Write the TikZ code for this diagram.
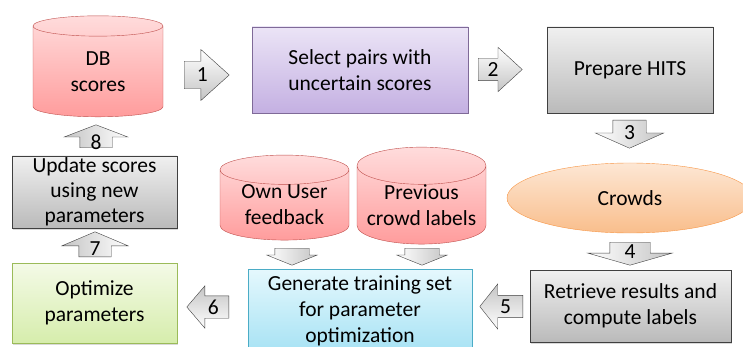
\documentclass[tikz,border=0pt]{standalone}
\usepackage{fontspec}
\setmainfont{Carlito}
\usetikzlibrary{shapes.geometric,shapes.arrows,calc,shadows}
\definecolor{dbtop}{HTML}{FFDCDC}
\definecolor{dbbot}{HTML}{FF9C9C}
\definecolor{dbline}{HTML}{C0504D}
\definecolor{seltop}{HTML}{EBE4F6}
\definecolor{selbot}{HTML}{C4B0E2}
\definecolor{selline}{HTML}{7F6A98}
\definecolor{graytop}{HTML}{F0F0F0}
\definecolor{graybot}{HTML}{BABABA}
\definecolor{crtop}{HTML}{FDE7D4}
\definecolor{crbot}{HTML}{F9BE8C}
\definecolor{crline}{HTML}{F79646}
\definecolor{gentop}{HTML}{E5F8FD}
\definecolor{genbot}{HTML}{A6E2F4}
\definecolor{genline}{HTML}{4BACC6}
\definecolor{opttop}{HTML}{F4FAE7}
\definecolor{optbot}{HTML}{D6EDAC}
\definecolor{optline}{HTML}{9BBB59}
\definecolor{arrbot}{HTML}{C4C4C4}

\tikzset{
  box/.style={rectangle, draw=black!75, align=center, inner sep=2pt,
    top color=graytop, bottom color=graybot,
    drop shadow={shadow xshift=1pt, shadow yshift=-1.5pt, opacity=0.3}},
  dbcyl/.style={cylinder, shape border rotate=90, draw=dbline, align=center,
    top color=dbtop, bottom color=dbbot, inner sep=0pt},
  barrow/.style={single arrow, draw=black!75, single arrow head indent=0pt,
    inner xsep=0pt},
  % half shaft, head extend, length, tip angle
  hsize/.style n args={4}{inner ysep=#1pt, single arrow head extend=#2pt,
    minimum height={2*(#1+#2)*1pt}, minimum width=#3pt,
    single arrow tip angle=#4},
  vsize/.style n args={4}{inner ysep=#1pt, single arrow head extend=#2pt,
    minimum width={2*(#1+#2)*1pt}, minimum height=#3pt,
    single arrow tip angle=#4},
  toright/.style={top color=white, bottom color=arrbot},
  toleft/.style={rotate=180, bottom color=white, top color=arrbot},
  todown/.style={rotate=-90, left color=white, right color=arrbot},
  toup/.style={rotate=90, right color=white, left color=arrbot},
}

\begin{document}
\begin{tikzpicture}[x=1pt,y=-1pt,font=\fontsize{21.5}{26}\selectfont]
  \useasboundingbox (0,0) rectangle (743,347);

  % boxes and stores
  \node[dbcyl, minimum width=130pt, minimum height=101pt, aspect=0.37] (dbs) at (98,71.5) {DB\\scores};
  \node[box, draw=selline, top color=seltop, bottom color=selbot,
    minimum width=216pt, minimum height=86pt] (sel) at (360,70) {Select pairs with\\uncertain scores};
  \node[box, minimum width=166pt, minimum height=86pt] (hits) at (630,70) {Prepare HITS};
  \node[ellipse, draw=crline, top color=crtop, bottom color=crbot,
    minimum width=246pt, minimum height=70pt] (crowd) at (630,198) {Crowds};
  \node[box, minimum width=201pt, minimum height=72pt] (retr) at (630.5,306) {Retrieve results and\\compute labels};
  \node[box, draw=genline, top color=gentop, bottom color=genbot,
    minimum width=224pt, minimum height=84pt] (gen) at (360,311) {Generate training set\\for parameter\\optimization};
  \node[dbcyl, minimum width=129pt, minimum height=85pt, aspect=0.34] (own) at (284.5,205) {Own User\\feedback};
  \node[dbcyl, minimum width=129pt, minimum height=85pt, aspect=0.34] (prev) at (421.5,205) {Previous\\crowd labels};
  \node[box, draw=optline, top color=opttop, bottom color=optbot,
    minimum width=165pt, minimum height=80pt] (opt) at (94.5,303) {Optimize\\parameters};
  \node[box, inner ysep=0pt, font=\fontsize{21.5}{25}\selectfont,
    minimum width=165pt, minimum height=72pt] (upd) at (94.5,192) {Update scores\\using new\\parameters};

  % block arrows
  \node[barrow, toright, hsize={12}{10.5}{51}{84}, anchor=tail] (a1) at (184,75) {};
  \node[barrow, toright, hsize={11}{11}{44}{85}, anchor=tail] (a2) at (478,69.5) {};
  \node[barrow, todown, vsize={16.5}{17.5}{28}{132}, anchor=tail] (a3) at (629.5,120) {};
  \node[barrow, todown, vsize={20}{22}{23}{148}, anchor=tail] (a4) at (630,242) {};
  \node[barrow, toleft, hsize={10.5}{11}{45}{103}, anchor=tail] (a5) at (523,306.5) {};
  \node[barrow, toleft, hsize={11}{10}{38}{99}, anchor=tail] (a6) at (229,307) {};
  \node[barrow, toup, vsize={16}{17}{25}{134}, anchor=tail] (a7) at (95,257) {};
  \node[barrow, toup, vsize={16}{15.5}{23}{138}, anchor=tail] (a8) at (96,148) {};
  \node[barrow, todown, vsize={17}{8}{17}{136}, anchor=tail] (b1) at (292,248) {};
  \node[barrow, todown, vsize={17}{8}{17}{136}, anchor=tail] (b2) at (422,248) {};

  \foreach \a/\n/\f in {a1/1/0.4, a2/2/0.34, a3/3/0.43, a4/4/0.43,
                        a5/5/0.4, a6/6/0.37, a7/7/0.32, a8/8/0.24}
  {
    \node[inner sep=0pt] (n\n) at ($(\a.tail)!\f!(\a.tip)$) {\n};
  }
\end{tikzpicture}
\end{document}
